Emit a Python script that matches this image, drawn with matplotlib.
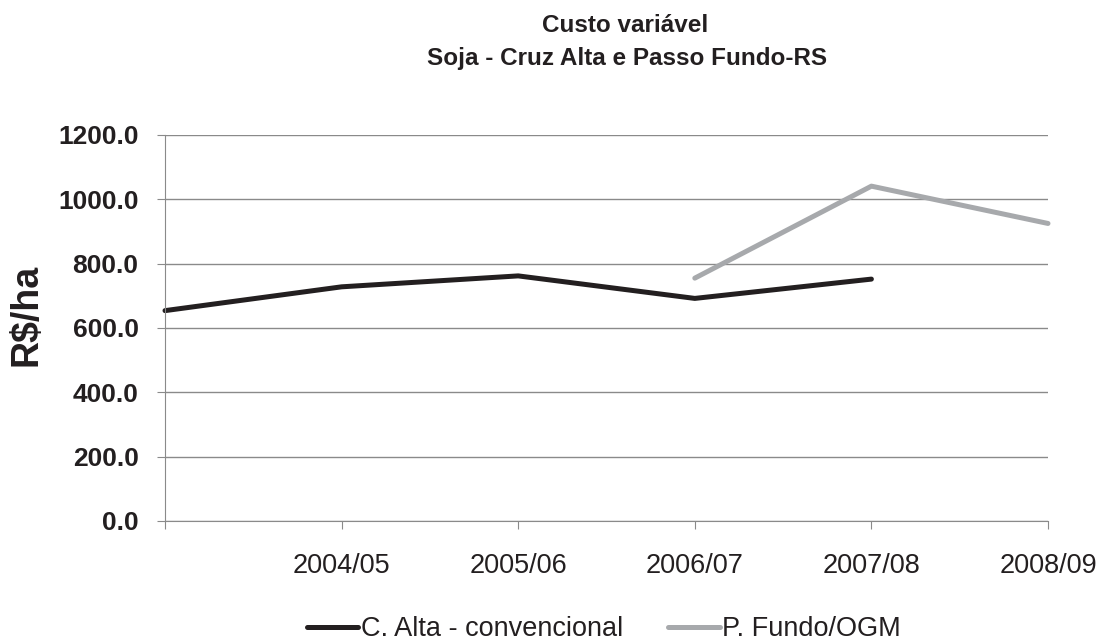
import matplotlib.pyplot as plt
import numpy as np

safras = ["", "2004/05", "2005/06", "2006/07", "2007/08", "2008/09"]
c_alta = [654, 728, 762, 692, 752, np.nan]
p_fundo = [np.nan, np.nan, np.nan, 755, 1041, 925]

plt.rcParams['font.family'] = ["Liberation Sans", "DejaVu Sans"]
ink = "#231f20"
grid_col = "#8a8a8a"

fig = plt.figure(figsize=(11.04, 6.44), dpi=100)
ax = fig.add_axes([165/1104, 1-521/644, (1048-165)/1104, (521-135)/644])

x = np.arange(len(safras))
ax.plot(x, c_alta, color=ink, lw=3.6, solid_capstyle="round", label="C. Alta - convencional", clip_on=False)
ax.plot(x, p_fundo, color="#a7a9ac", lw=3.6, solid_capstyle="round", label="P. Fundo/OGM", clip_on=False)

ax.set_xlim(0, 5)
ax.set_ylim(0, 1200)
yt = np.arange(0, 1201, 200)
ax.set_yticks(yt)
ax.set_yticklabels(["%.1f" % v for v in yt], fontsize=19, fontweight="bold", color=ink)
ax.set_xticks(x)
ax.set_xticklabels(safras, fontsize=19.5, color=ink)
ax.grid(axis="y", color=grid_col, lw=1)
ax.set_axisbelow(True)
for s in ["top", "right"]:
    ax.spines[s].set_visible(False)
for s in ["left", "bottom"]:
    ax.spines[s].set_color(grid_col)
ax.tick_params(axis="both", direction="out", length=6, color=grid_col)
ax.tick_params(axis="x", pad=17)
ax.tick_params(axis="y", pad=13)
ax.set_ylabel("R$/ha", fontsize=27, fontweight="bold", color=ink)
ax.yaxis.set_label_coords(-0.136, 0.533)

fig.text(625/1104, 1-25/644, "Custo variável", ha="center", va="center", fontsize=17.5, fontweight="bold", color=ink)
fig.text(627/1104, 1-59/644, "Soja - Cruz Alta e Passo Fundo-RS", ha="center", va="center", fontsize=17.5, fontweight="bold", color=ink)

fig.legend(loc="center", bbox_to_anchor=(604/1104, 1-629/644), ncol=2, frameon=False,
           prop={"size": 19.5}, handlelength=1.9, handletextpad=0.1, columnspacing=1.65,
           borderpad=0, labelcolor=ink)

fig.savefig("out.png", dpi=100)
